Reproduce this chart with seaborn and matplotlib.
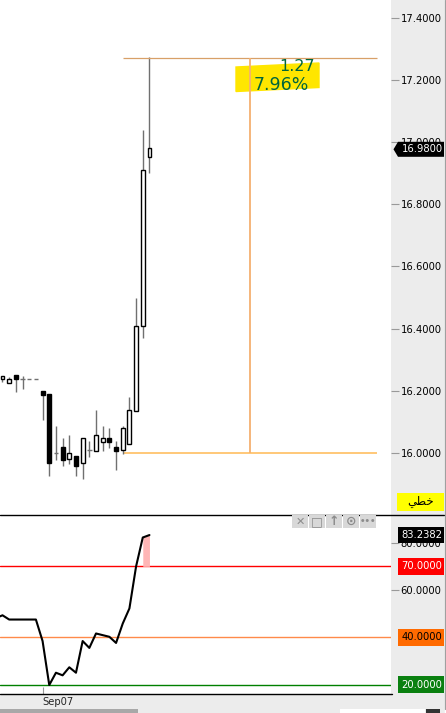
import matplotlib; matplotlib.use("Agg")
import matplotlib.pyplot as plt
from matplotlib.patches import Polygon, Rectangle
import pandas as pd
import seaborn as sns

# candles
idx    = list(range(23))
opens  = [16.239, 16.226, 16.251, 16.237, 16.237, 16.237, 16.199, 16.190, 15.999, 16.018, 15.980, 15.989,
          15.967, 16.009, 16.005, 16.036, 16.047, 16.018, 16.009, 16.028, 16.136, 16.407, 16.951]
closes = [16.249, 16.237, 16.239, 16.237, 16.237, 16.237, 16.186, 15.969, 15.999, 15.978, 15.999, 15.959,
          16.047, 16.009, 16.057, 16.047, 16.036, 16.007, 16.079, 16.137, 16.407, 16.909, 16.980]
highs  = [16.249, 16.245, 16.251, 16.248, 16.237, 16.237, 16.199, 16.190, 16.087, 16.047, 16.058, 15.989,
          16.047, 16.039, 16.138, 16.087, 16.079, 16.039, 16.087, 16.179, 16.497, 17.039, 17.273]
lows   = [16.229, 16.226, 16.196, 16.206, 16.237, 16.237, 16.106, 15.926, 15.977, 15.958, 15.965, 15.926,
          15.917, 15.988, 16.005, 16.007, 16.017, 15.945, 15.997, 16.028, 16.136, 16.369, 16.899]

# lower pane line, starts one bar before the first candle
rsi_idx = list(range(-1, 23))
rsi     = [48.1, 49.3, 47.5, 47.5, 47.5, 47.5, 47.5, 38.4, 19.8, 25.0, 23.9, 27.3, 25.0,
           38.4, 35.5, 41.6, 40.9, 40.2, 37.6, 45.8, 52.2, 70.0, 82.2, 83.24]

price_ticks = [16.0, 16.2, 16.4, 16.6, 16.8, 17.0, 17.2, 17.4]
rsi_ticks   = [60, 80]
last_price  = 16.98
last_rsi    = 83.2382
levels      = [70, 40, 20]
level_cols  = ["#ff0000", "#ff8a4a", "#008000"]
badge_cols  = ["#ff0000", "#ff6a00", "#0a8010"]
badge_text  = ["white", "black", "white"]
measure_hi, measure_lo = 17.27, 16.0
measure_bars = (18, 37, 56)   # start, middle, end
date_bar, date_label = 6, "Sep07"

W, H = 446, 713
PANEL = "#ececec"
XLIM = (-0.374, 58.16)
TICK_FS = 7.2

sns.set_style("white")
plt.rcParams["font.family"] = ["DejaVu Sans"]

fig = plt.figure(figsize=(W / 100, H / 100), dpi=100, facecolor=PANEL)


def pane(top, bottom):
    return fig.add_axes([0, 1 - bottom / H, 391 / W, (bottom - top) / H])


ax = pane(0, 515)
ax2 = pane(516, 694)
chrome = fig.add_axes([0, 0, 1, 1], zorder=10)
chrome.set_xlim(0, W); chrome.set_ylim(H, 0)
chrome.axis("off")

# ── candles ──────────────────────────────────────────────
df = pd.DataFrame({"i": idx, "o": opens, "c": closes, "h": highs, "l": lows})
ax.vlines(df.i, df.l, df.h, color="#707070", lw=1.0, zorder=2)
for up, col in [(True, "white"), (False, "black")]:
    d = df[(df.c > df.o) if up else (df.c < df.o)]
    ax.bar(d.i, (d.c - d.o).abs(), bottom=d[["o", "c"]].min(axis=1), width=0.58,
           color=col, edgecolor="black", lw=1.0, zorder=3)
flat = df[df.c == df.o]
ax.hlines(flat.o, flat.i - 0.33, flat.i + 0.33, color="#707070", lw=1.0, zorder=3)

# ── measuring tool ───────────────────────────────────────
a, m, b = measure_bars
ax.add_patch(Polygon([(236, 67), (319, 63), (319, 87.5), (236, 91.5)], color="#ffe600",
                     transform=chrome.transData, zorder=1))
ax.hlines(measure_hi, a, b, color="#d8a068", lw=0.9, zorder=4)
ax.hlines(measure_lo, a, b, color="#ffc878", lw=1.4, zorder=1)
ax.vlines(m, measure_lo, measure_hi, color="#f4b070", lw=1.3, zorder=4)
chrome.text(297, 66.5, "1.27", color="#00663c", fontsize=11.5, ha="center", va="center")
chrome.text(281.5, 85, "7.96%", color="#00663c", fontsize=12.5, ha="center", va="center")

# ── lower pane ───────────────────────────────────────────
for lev, col in zip(levels, level_cols):
    ax2.axhline(lev, color=col, lw=1.0, zorder=1)
ax2.fill_between(rsi_idx[-2:], [70, 70], rsi[-2:], color="#ffb6b6", lw=0, zorder=1.5)
sns.lineplot(x=rsi_idx, y=rsi, ax=ax2, color="black", lw=1.5, zorder=3)

# ── axes ─────────────────────────────────────────────────
ax.set_xlim(*XLIM); ax.set_ylim(15.8006, 17.457)
ax2.set_xlim(*XLIM); ax2.set_ylim(16.0, 91.3)
for a_, ticks in [(ax, price_ticks), (ax2, rsi_ticks)]:
    a_.yaxis.tick_right()
    a_.set_yticks(ticks, [f"{t:.4f}" for t in ticks])
    a_.tick_params(axis="y", length=6, width=0.8, color="#999999", labelsize=TICK_FS, pad=1,
                   labelcolor="black", right=True)
    sns.despine(ax=a_, left=True, right=True, top=True, bottom=True)
ax.set_xticks([])
ax2.set_xticks([date_bar], [date_label], ha="left")
ax2.tick_params(axis="x", direction="in", length=5, width=0.8, color="#999999",
                labelsize=TICK_FS, pad=2.5, bottom=True)

# ── frame pieces ─────────────────────────────────────────
chrome.plot([0, 444], [515, 515], color="black", lw=1.0)
chrome.plot([0, 392], [694, 694], color="black", lw=1.0)
chrome.plot([444.5, 444.5], [0, 709], color="#a0a0a0", lw=0.9)
chrome.add_patch(Rectangle((445, 0), 1, H, color="white"))
chrome.add_patch(Rectangle((0, 709), 138, 4, color="#a8a8a8", lw=0))
chrome.add_patch(Rectangle((340, 709), 85, 4, color="white", lw=0))
chrome.add_patch(Rectangle((426, 709), 14, 4, color="#333333", lw=0))


def ypix(axis, v):
    return H - axis.transData.transform((0, v))[1]


def badge(y, label, bg, fg, x0=398):
    chrome.add_patch(Rectangle((x0, y - 8.2), 444 - x0, 16.5, color=bg, lw=0, zorder=5))
    chrome.text(422, y, label, color=fg, fontsize=TICK_FS, ha="center", va="center", zorder=6)


y_last = ypix(ax, last_price) + 1
chrome.add_patch(Polygon([(393.5, y_last), (398, y_last - 7.5), (444, y_last - 7.5),
                          (444, y_last + 7.5), (398, y_last + 7.5)], color="black", lw=0, zorder=5))
chrome.text(422, y_last, f"{last_price:.4f}", color="white", fontsize=TICK_FS, ha="center",
            va="center", zorder=6)
badge(ypix(ax2, last_rsi), f"{last_rsi:.4f}", "black", "white")
for lev, bg, fg in zip(levels, badge_cols, badge_text):
    badge(ypix(ax2, lev), f"{lev:.4f}", bg, fg)

# yellow button, Arabic letters in visual order since matplotlib does no shaping
chrome.add_patch(Rectangle((397, 493), 47, 18, color="#ffff00", lw=0, zorder=5))
chrome.text(421, 501.5, "\ufef2\ufec4\ufea7", color="black", fontsize=8.5, ha="center",
            va="center", zorder=6)

# pane toolbar
for x0, glyph, fs in zip([292, 309, 326, 343, 360],
                         ["\u2715", "\u25a1", "\u2191", "\u2299", "\u2022\u2022\u2022"],
                         [8, 9, 9, 9, 6]):
    chrome.add_patch(Rectangle((x0, 515), 16, 13, color="#d8d8d8", lw=0, zorder=5))
    chrome.text(x0 + 8, 521.5, glyph, color="#8c8c8c", fontsize=fs, fontweight="bold",
                ha="center", va="center", zorder=6)

fig.savefig("out.png", dpi=100)
